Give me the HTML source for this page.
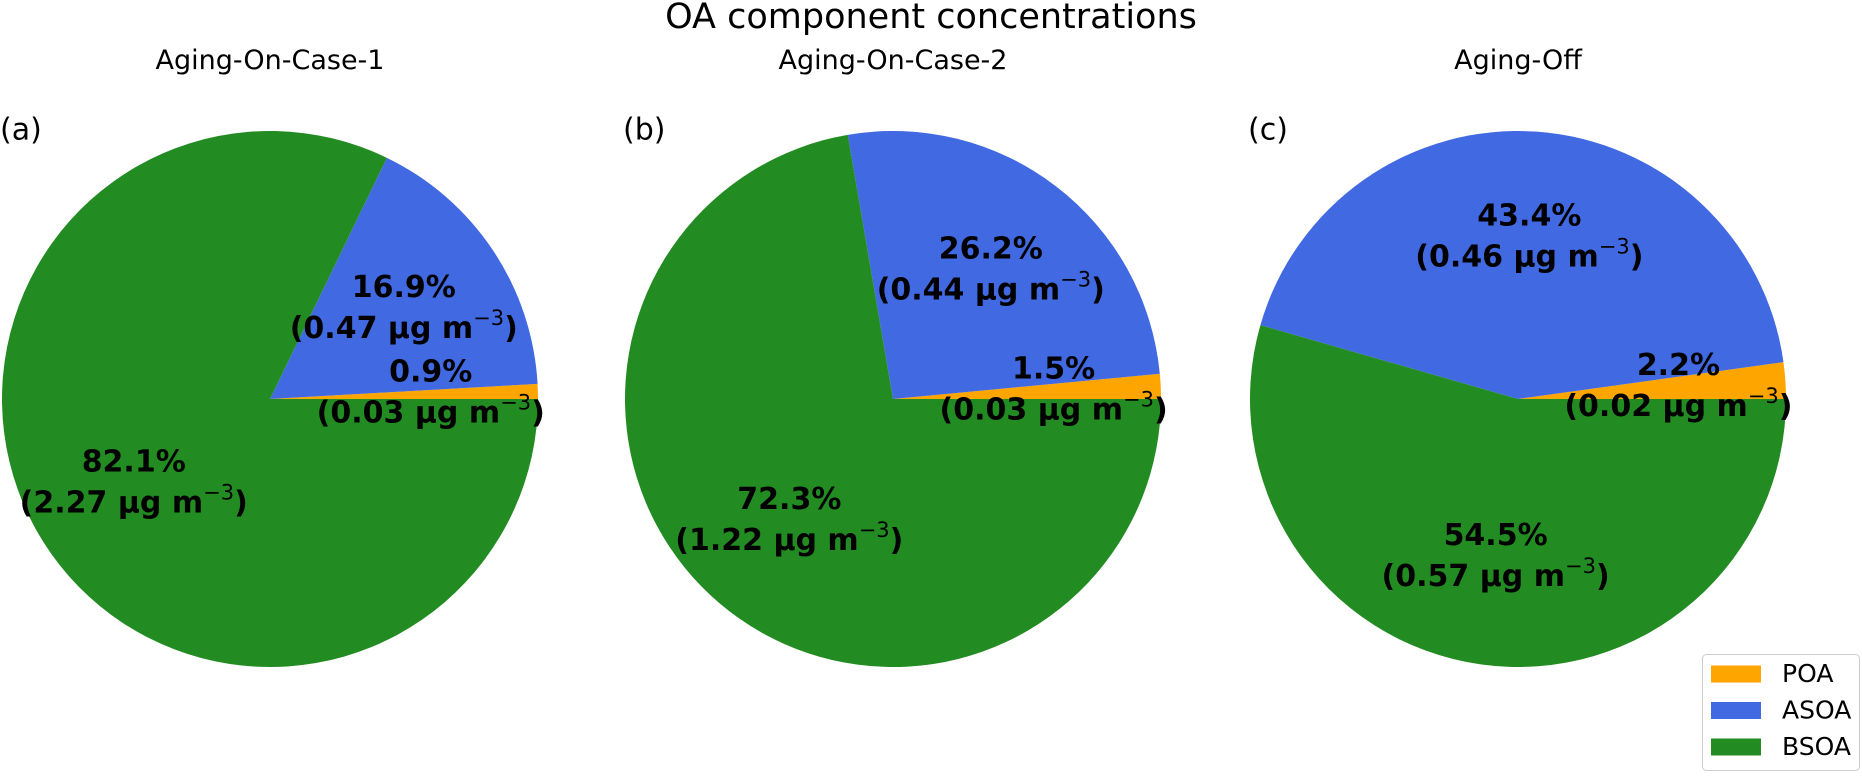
<!DOCTYPE html>
<html><head><meta charset="utf-8"><style>
body{margin:0;background:#fff;width:1862px;height:773px;overflow:hidden;font-family:"Liberation Sans","DejaVu Sans",sans-serif}
</style></head><body>
<svg id="chart" width="1862" height="773" xmlns="http://www.w3.org/2000/svg">
<text x="931" y="28" text-anchor="middle" font-size="35" font-family="DejaVu Sans, sans-serif">OA component concentrations</text>
<g id="pies"></g>
<g id="labels"></g>
<g>
<rect x="1702.5" y="654.5" width="157" height="116" rx="4" fill="#fff" stroke="#ccc"/>
<g id="legend-items"></g>
</g>
</svg>
<script>
const categories = ["POA","ASOA","BSOA"];
const colors = ["#ffa500","#4169e1","#228b22"];
const panels = ["Aging-On-Case-1","Aging-On-Case-2","Aging-Off"];
const panelLetters = ["(a)","(b)","(c)"];
const pctCase1 = [0.9,16.9,82.1];
const pctCase2 = [1.5,26.2,72.3];
const pctOff = [2.2,43.4,54.5];
const valCase1 = ["0.03","0.47","2.27"];
const valCase2 = ["0.03","0.44","1.22"];
const valOff = ["0.02","0.46","0.57"];
const pcts = [pctCase1,pctCase2,pctOff];
const vals = [valCase1,valCase2,valOff];
const NS="http://www.w3.org/2000/svg";
const centers=[270,893,1518], cy=399, R=268;
const g=document.getElementById('pies');
const lbl=document.getElementById('labels');
function mk(tag,attrs,parent){const e=document.createElementNS(NS,tag);for(const k in attrs)e.setAttribute(k,attrs[k]);parent.appendChild(e);return e;}
panels.forEach((name,p)=>{
  const cx=centers[p];
  const t=mk('text',{x:cx,y:69,'text-anchor':'middle','font-size':27,'font-family':'DejaVu Sans, sans-serif'},g);
  t.textContent=name;
  
  
  const l=mk('text',{x:cx-270,y:131,'dominant-baseline':'middle','font-size':30,'font-family':'DejaVu Sans, sans-serif'},g);
  l.textContent=panelLetters[p];
  
  
  const tot=pcts[p].reduce((a,b)=>a+b,0);
  let a0=0;
  pcts[p].forEach((v,i)=>{
    const a1=a0+v/tot*2*Math.PI;
    const x0=cx+R*Math.cos(a0),y0=cy-R*Math.sin(a0),x1=cx+R*Math.cos(a1),y1=cy-R*Math.sin(a1);
    const large=(a1-a0)>Math.PI?1:0;
    const path=mk('path',{d:`M${cx},${cy} L${x0},${y0} A${R},${R} 0 ${large} 0 ${x1},${y1} Z`,fill:colors[i]},g);
    
    
    const am=(a0+a1)/2, lx=cx+0.6*R*Math.cos(am), ly=cy-0.6*R*Math.sin(am);
    const tx=mk('text',{x:lx,'text-anchor':'middle','font-size':30,'font-weight':'bold','font-family':'DejaVu Sans, sans-serif'},lbl);
    
    
    const s1=mk('tspan',{x:lx,y:ly-13},tx); s1.textContent=v.toFixed(1)+'%';
    const s2=mk('tspan',{x:lx,y:ly+28},tx); s2.textContent='('+vals[p][i]+' µg m';
    const s3=mk('tspan',{dy:-13,'font-size':21,'font-weight':'normal'},tx); s3.textContent='−3';
    const s4=mk('tspan',{dy:13},tx); s4.textContent=')';
    a0=a1;
  });
});
const lg=document.getElementById('legend-items');
categories.forEach((c,i)=>{
  const y=674+i*36.5;
  const r=mk('rect',{x:1711,y:y-8.5,width:50,height:17,fill:colors[i]},lg);
  
  
  const t=mk('text',{x:1782,y:y+1,'dominant-baseline':'middle','font-size':25,'font-family':'DejaVu Sans, sans-serif'},lg);
  t.textContent=c;
  
  
});
</script>
</body></html>
